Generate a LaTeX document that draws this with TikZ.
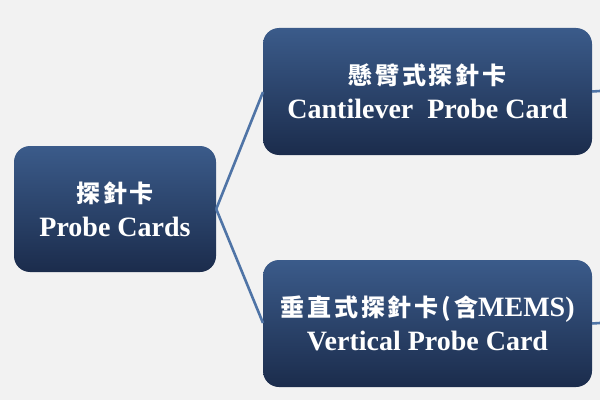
\documentclass[tikz,border=0pt]{standalone}
\usepackage{fontspec}
\setmainfont{Liberation Serif}
\newfontfamily\cjk[LetterSpace=12]{Noto Sans CJK TC}
\definecolor{boxtop}{HTML}{3B5B8A}
\definecolor{boxbot}{HTML}{1B2C4C}
\definecolor{linkc}{HTML}{4F74A6}
\definecolor{bgc}{HTML}{F2F2F2}
\begin{document}
\begin{tikzpicture}[x=1pt,y=1pt,
  box/.style={rounded corners=16pt, top color=boxtop, bottom color=boxbot, draw=none,
    text=white, align=center, inner sep=0pt, font=\bfseries\fontsize{28}{34}\selectfont},
  link/.style={draw=linkc, line width=2.6pt}]
\fill[bgc] (0,0) rectangle (600,400);
\useasboundingbox (0,0) rectangle (600,400);
\node[box, minimum width=202pt, minimum height=126pt] (root) at (115,191) {{\cjk\fontsize{24}{34}\selectfont 探針卡}\\Probe Cards};
\node[box, minimum width=329pt, minimum height=127pt] (top) at (427.5,308.5) {{\cjk\fontsize{24}{34}\selectfont 懸臂式探針卡}\\Cantilever\ \ Probe Card};
\node[box, minimum width=329pt, minimum height=127pt] (bot) at (427.5,76.5) {{\cjk\fontsize{24}{34}\selectfont 垂直式探針卡(含}MEMS)\\Vertical Probe Card};
\coordinate (tl) at (263,308);
\coordinate (bl) at (263,77);
\coordinate (tr2) at (600,309);
\coordinate (br2) at (600,77);
\draw[link] (root.east) -- (tl);
\draw[link] (root.east) -- (bl);
\draw[link] (top.east) -- (tr2);
\draw[link] (bot.east) -- (br2);
\end{tikzpicture}
\end{document}
